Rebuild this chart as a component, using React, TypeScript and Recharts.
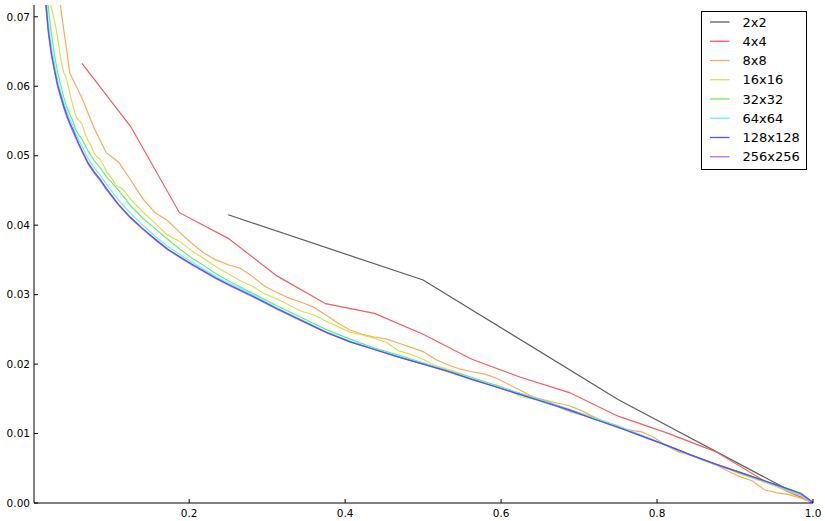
import React from 'react';
import { LineChart, Line, XAxis, YAxis, Legend } from 'recharts';

// ---- data ----
const x2x2 = [0.25, 0.5, 0.75, 1.0];
const y2x2 = [0.0415, 0.0321, 0.0149, 0.0];

const x4x4 = [0.0625, 0.125, 0.1875, 0.25, 0.3125, 0.375, 0.4375, 0.5, 0.5625, 0.625, 0.6875, 0.75, 0.8125, 0.875, 0.9375, 1.0];
const y4x4 = [0.0633, 0.0542, 0.0418, 0.0381, 0.0327, 0.0287, 0.0273, 0.0243, 0.0207, 0.0181, 0.0159, 0.0125, 0.0101, 0.0074, 0.0032, 0.0];

const x8x8 = [
  0.0156, 0.0313, 0.0469, 0.0625, 0.0781, 0.0938, 0.1094, 0.125,
  0.1406, 0.1563, 0.1719, 0.1875, 0.2031, 0.2188, 0.2344, 0.25,
  0.2656, 0.2813, 0.2969, 0.3125, 0.3281, 0.3438, 0.3594, 0.375,
  0.3906, 0.4063, 0.4219, 0.4375, 0.4531, 0.4688, 0.4844, 0.5,
  0.5156, 0.5313, 0.5469, 0.5625, 0.5781, 0.5938, 0.6094, 0.625,
  0.6406, 0.6563, 0.6719, 0.6875, 0.7031, 0.7188, 0.7344, 0.75,
  0.7656, 0.7813, 0.7969, 0.8125, 0.8281, 0.8438, 0.8594, 0.875,
  0.8906, 0.9063, 0.9219, 0.9375, 0.9531, 0.9688, 0.9844, 1.0,
];
const y8x8 = [
  0.0950, 0.0745, 0.0619, 0.0583, 0.0540, 0.0504, 0.0491, 0.0465,
  0.0438, 0.0418, 0.0407, 0.0390, 0.0374, 0.0360, 0.0350, 0.0343,
  0.0338, 0.0326, 0.0312, 0.0303, 0.0295, 0.0289, 0.0282, 0.0271,
  0.0259, 0.0249, 0.0243, 0.0239, 0.0236, 0.0230, 0.0224, 0.0218,
  0.0207, 0.0199, 0.0193, 0.0189, 0.0186, 0.0180, 0.0171, 0.0162,
  0.0153, 0.0148, 0.0144, 0.0140, 0.0133, 0.0124, 0.0115, 0.0108,
  0.0105, 0.0102, 0.0094, 0.0082, 0.0073, 0.0069, 0.0062, 0.0055,
  0.0046, 0.0038, 0.0032, 0.0019, 0.0015, 0.0012, 0.0007, 0.0,
];

const x16x16 = [
  0.0156, 0.0195, 0.0234, 0.0273, 0.0313, 0.0352, 0.0391, 0.043, 0.0469, 0.0508,
  0.0547, 0.0586, 0.0625, 0.0664, 0.0703, 0.0742, 0.0781, 0.082, 0.0859, 0.0898,
  0.0938, 0.0977, 0.1016, 0.1055, 0.1094, 0.1133, 0.1172, 0.1211, 0.125,
  0.1406, 0.1563, 0.1719, 0.1875, 0.2031, 0.2188, 0.2344, 0.25,
  0.2656, 0.2813, 0.2969, 0.3125, 0.3281, 0.3438, 0.3594, 0.375,
  0.3906, 0.4063, 0.4219, 0.4375, 0.4531, 0.4688, 0.4844, 0.5,
  0.5156, 0.5313, 0.5469, 0.5625, 0.5781, 0.5938, 0.6094, 0.625,
  0.6406, 0.6563, 0.6719, 0.6875, 0.7031, 0.7188, 0.7344, 0.75,
  0.7656, 0.7813, 0.7969, 0.8125, 0.8281, 0.8438, 0.8594, 0.875,
  0.8906, 0.9063, 0.9219, 0.9375, 0.9531, 0.9688, 0.9844, 1.0,
];
const y16x16 = [
  0.0800, 0.0735, 0.0712, 0.0695, 0.0670, 0.0640, 0.0620, 0.0610, 0.0590, 0.0572,
  0.0557, 0.0551, 0.0546, 0.0532, 0.0522, 0.0514, 0.0503, 0.0498, 0.0495, 0.0487,
  0.0477, 0.0472, 0.0466, 0.0458, 0.0455, 0.0453, 0.0449, 0.0443, 0.0437,
  0.0419, 0.0403, 0.0386, 0.0377, 0.0363, 0.0352, 0.0340, 0.0330,
  0.0320, 0.0312, 0.0301, 0.0294, 0.0285, 0.0276, 0.0271, 0.0262,
  0.0254, 0.0246, 0.0242, 0.0237, 0.0231, 0.0219, 0.0214, 0.0207,
  0.0198, 0.0193, 0.0187, 0.0179, 0.0173, 0.0170, 0.0163, 0.0153,
  0.0150, 0.0144, 0.0139, 0.0131, 0.0127, 0.0122, 0.0116, 0.0110,
  0.0103, 0.0097, 0.0090, 0.0082, 0.0075, 0.0068, 0.0061, 0.0055,
  0.0049, 0.0042, 0.0036, 0.0030, 0.0024, 0.0017, 0.0010, 0.0,
];

// shared sample positions for the fine-grid curves
const fineX = [
  0.0078, 0.0117, 0.0156, 0.0195, 0.0234, 0.0273, 0.0313, 0.0352, 0.0391, 0.043,
  0.0469, 0.0508, 0.0547, 0.0586, 0.0625,
  0.0703, 0.0781, 0.0859, 0.0938, 0.1094, 0.125, 0.1406, 0.1563, 0.1719, 0.1875,
  0.2031, 0.2188, 0.2344, 0.25,
  0.2813, 0.3125, 0.3438, 0.375, 0.4063, 0.4375, 0.4688, 0.5, 0.5313, 0.5625,
  0.5938, 0.625, 0.6563, 0.6875, 0.7188, 0.75, 0.7813, 0.8125, 0.8438, 0.875,
  0.9063, 0.9375, 0.9531, 0.9688, 0.9844, 1.0,
];
const y32x32 = [
  0.0900, 0.0820, 0.0765, 0.0712, 0.0675, 0.0645, 0.0620, 0.0602, 0.0585, 0.0570,
  0.0560, 0.0550, 0.0537, 0.0530, 0.0524,
  0.0507, 0.0493, 0.0483, 0.0470, 0.0450, 0.0428, 0.0410, 0.0395, 0.0380, 0.0366,
  0.0353, 0.0342, 0.0330, 0.0320,
  0.0302, 0.0284, 0.0267, 0.0250, 0.0236, 0.0223, 0.0213, 0.0202, 0.0191, 0.0181,
  0.0169, 0.0158, 0.0147, 0.0135, 0.0123, 0.0111, 0.0097, 0.0083, 0.0069, 0.0056,
  0.0043, 0.0031, 0.0025, 0.0018, 0.0011, 0.0,
];
const y64x64 = [
  0.0880, 0.0800, 0.0740, 0.0690, 0.0656, 0.0632, 0.0608, 0.0592, 0.0577, 0.0564,
  0.0552, 0.0543, 0.0531, 0.0522, 0.0514,
  0.0496, 0.0483, 0.0472, 0.0459, 0.0436, 0.0417, 0.0400, 0.0384, 0.0370, 0.0358,
  0.0347, 0.0336, 0.0326, 0.0317,
  0.0300, 0.0281, 0.0264, 0.0247, 0.0233, 0.0222, 0.0211, 0.0201, 0.0190, 0.0179,
  0.0168, 0.0157, 0.0146, 0.0134, 0.0122, 0.0110, 0.0097, 0.0083, 0.0069, 0.0056,
  0.0044, 0.0032, 0.0026, 0.0019, 0.0012, 0.0,
];
const y128x128 = [
  0.0860, 0.0780, 0.0728, 0.0679, 0.0647, 0.0624, 0.0602, 0.0587, 0.0572, 0.0559,
  0.0547, 0.0538, 0.0527, 0.0517, 0.0508,
  0.0490, 0.0477, 0.0466, 0.0453, 0.0430, 0.0411, 0.0395, 0.0380, 0.0366, 0.0355,
  0.0344, 0.0334, 0.0324, 0.0315,
  0.0298, 0.0280, 0.0263, 0.0246, 0.0232, 0.0221, 0.0210, 0.0200, 0.0190, 0.0178,
  0.0167, 0.0156, 0.0145, 0.0134, 0.0121, 0.0109, 0.0096, 0.0083, 0.0069, 0.0056,
  0.0044, 0.0032, 0.0026, 0.0020, 0.0014, 0.0001,
];
const y256x256 = [
  0.0850, 0.0770, 0.0722, 0.0675, 0.0644, 0.0621, 0.0599, 0.0584, 0.0569, 0.0556,
  0.0545, 0.0535, 0.0525, 0.0515, 0.0506,
  0.0488, 0.0475, 0.0464, 0.0451, 0.0429, 0.0410, 0.0394, 0.0379, 0.0365, 0.0354,
  0.0343, 0.0333, 0.0323, 0.0314,
  0.0297, 0.0279, 0.0262, 0.0246, 0.0232, 0.0221, 0.0210, 0.0200, 0.0189, 0.0178,
  0.0167, 0.0156, 0.0145, 0.0133, 0.0121, 0.0109, 0.0096, 0.0083, 0.0069, 0.0056,
  0.0044, 0.0032, 0.0026, 0.0020, 0.0013, 0.0,
];

const xTicks = [0.2, 0.4, 0.6, 0.8, 1.0];
const yTicks = [0, 0.01, 0.02, 0.03, 0.04, 0.05, 0.06, 0.07];

const seriesNames = ['2x2', '4x4', '8x8', '16x16', '32x32', '64x64', '128x128', '256x256'];
const seriesColors = ['#5e5e5e', '#ff5c5c', '#ffaa5e', '#dede52', '#6af06a', '#66f5f5', '#5252ff', '#b070ff'];
const seriesX = [x2x2, x4x4, x8x8, x16x16, fineX, fineX, fineX, fineX];
const seriesY = [y2x2, y4x4, y8x8, y16x16, y32x32, y64x64, y128x128, y256x256];
// drawing order: 256x256 sits beneath 128x128 as in the reference
const drawOrder = [0, 1, 2, 3, 4, 5, 7, 6];

const toData = (xs: number[], ys: number[]) => xs.map((x, i) => ({ x, y: ys[i] }));

const FONT = 'DejaVu Sans, sans-serif';

const LegendBox = () => (
  <svg width={106} height={159} style={{ display: 'block' }}>
    <rect x={0.5} y={0.5} width={105} height={158} fill="#fff" stroke="#000" strokeWidth={1} />
    {seriesNames.map((n, i) => {
      const cy = 11 + i * 19.25;
      return (
        <g key={n}>
          <line x1={9} x2={28.5} y1={cy} y2={cy} stroke={seriesColors[i]} strokeWidth={1.3} />
          <text x={41.5} y={cy} dy="0.36em" fontSize={13} fontFamily={FONT} fill="#000">
            {n}
          </text>
        </g>
      );
    })}
  </svg>
);

const tickStyle = { fontSize: 10.5, fill: '#000', fontFamily: FONT };
const axisStroke = { stroke: '#000', strokeWidth: 1 };

export default function App() {
  return (
    <div style={{ position: 'absolute', left: 0, top: 0, width: 825, height: 521, background: '#fff', fontFamily: FONT }}>
      <LineChart width={825} height={521} margin={{ top: 5, right: 12, bottom: 0, left: 0 }}>
        <XAxis
          dataKey="x"
          type="number"
          domain={[0.001, 1]}
          allowDataOverflow
          ticks={xTicks}
          tickFormatter={(v: number) => v.toFixed(1)}
          tick={tickStyle}
          tickSize={-4}
          tickMargin={10.4}
          height={18}
          axisLine={axisStroke}
          tickLine={axisStroke}
        />
        <XAxis
          xAxisId="top"
          orientation="top"
          dataKey="x"
          type="number"
          domain={[0.001, 1]}
          allowDataOverflow
          ticks={xTicks}
          tickFormatter={() => ''}
          tickSize={-4}
          height={0}
          axisLine={axisStroke}
          tickLine={axisStroke}
        />
        <YAxis
          type="number"
          domain={[0, 0.0717]}
          allowDataOverflow
          ticks={yTicks}
          tickFormatter={(v: number) => v.toFixed(2)}
          tick={tickStyle}
          tickSize={-4}
          tickMargin={8}
          width={34}
          axisLine={axisStroke}
          tickLine={axisStroke}
        />
        <YAxis
          yAxisId="right"
          orientation="right"
          type="number"
          domain={[0, 0.0717]}
          allowDataOverflow
          ticks={yTicks}
          tickFormatter={() => ''}
          tickSize={-4}
          width={0}
          axisLine={axisStroke}
          tickLine={axisStroke}
        />
        {drawOrder.map((i) => (
          <Line
            key={seriesNames[i]}
            name={seriesNames[i]}
            data={toData(seriesX[i], seriesY[i])}
            dataKey="y"
            type="linear"
            stroke={seriesColors[i]}
            strokeWidth={1.2}
            dot={false}
            activeDot={false}
            isAnimationActive={false}
          />
        ))}
        <Legend
          layout="horizontal"
          verticalAlign="middle"
          align="center"
          content={LegendBox}
          wrapperStyle={{ top: 11, left: 701, width: 106, height: 159 }}
        />
      </LineChart>
    </div>
  );
}
